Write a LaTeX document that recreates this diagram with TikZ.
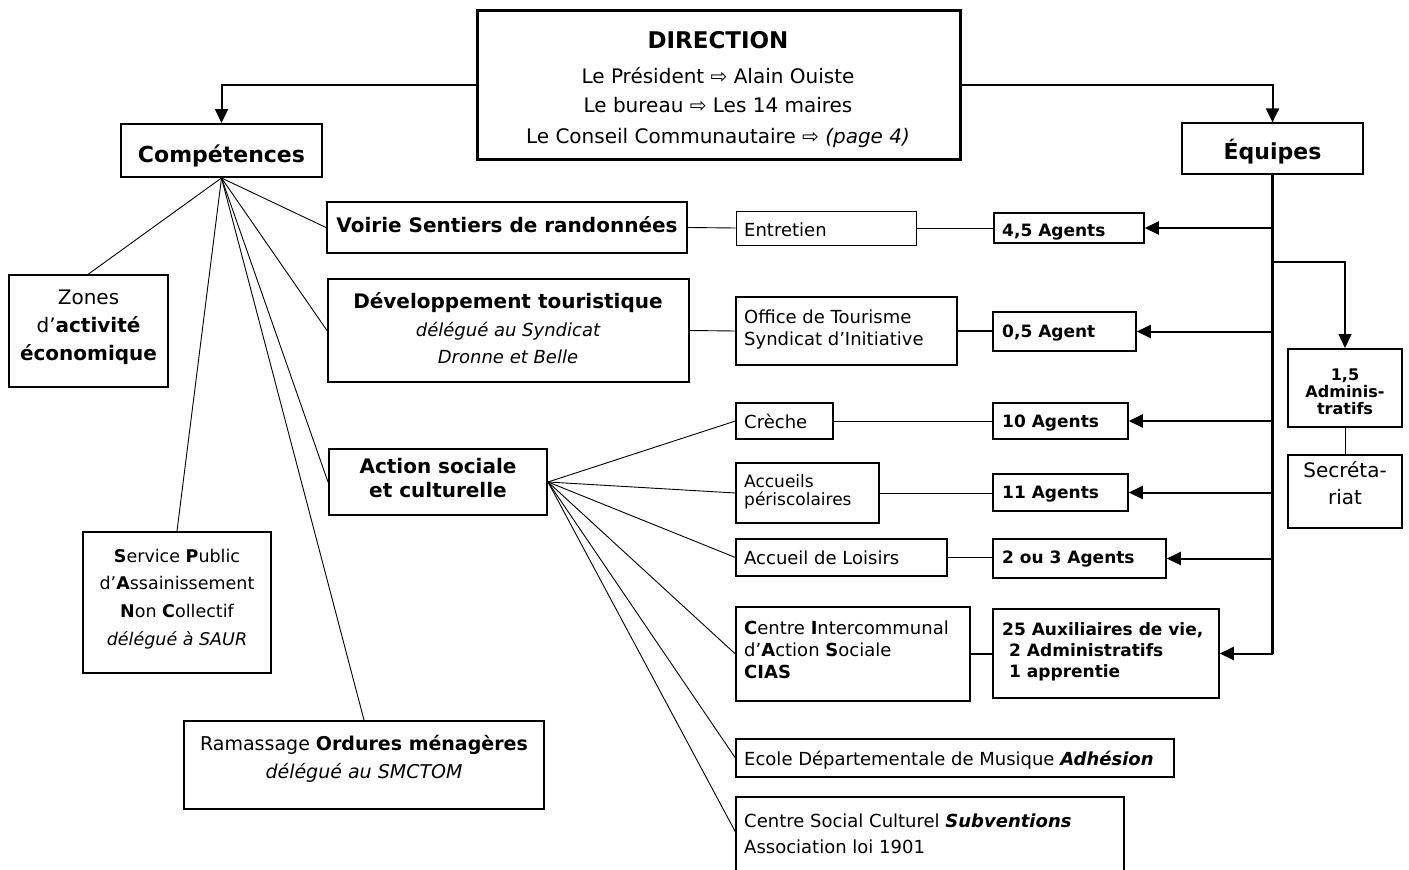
\documentclass[tikz,border=0pt]{standalone}
\usepackage{fontspec}
\setmainfont{DejaVu Sans}
\usetikzlibrary{arrows.meta,fit}
\newcommand\fz[1]{\fontsize{#1pt}{#1pt}\selectfont}
\begin{document}
\begin{tikzpicture}[x=1pt,y=-1pt,
  bx/.style={draw, inner sep=0pt},
  tc/.style={inner sep=0pt, anchor=base},
  tl/.style={inner sep=0pt, anchor=base west},
  ln/.style={line width=0.9pt},
  arr/.style={line width=2pt, -{Triangle[length=14pt,width=13pt]}},
  arrs/.style={line width=1.5pt, -{Triangle[length=14pt,width=13pt]}},
]
\useasboundingbox (0,0) rectangle (1409,870);
% ---------- boxes ----------
\node[bx, line width=3pt, fit={(477,10) (960,159)}] (dir) {};
\node[bx, line width=2pt, fit={(121,124) (322,177)}] (comp) {};
\node[bx, line width=1.2pt, fit={(1182,123) (1363,174)}] (eq) {};
\node[bx, line width=2pt, fit={(327,202) (687,253)}] (voi) {};
\node[bx, line width=2pt, fit={(328,279) (689,382)}] (dev) {};
\node[bx, line width=2pt, fit={(9,275) (168,387)}] (zon) {};
\node[bx, line width=2pt, fit={(329,449) (547,515)}] (act) {};
\node[bx, line width=2pt, fit={(83,532) (271,673)}] (spa) {};
\node[bx, line width=2pt, fit={(184,721) (544,809)}] (ram) {};
\node[bx, line width=1pt, fit={(736,211) (916,245)}] (ent) {};
\node[bx, line width=1.5pt, fit={(994,213) (1144,243)}] (a45) {};
\node[bx, line width=1.2pt, fit={(736,297) (957,365)}] (off) {};
\node[bx, line width=1.5pt, fit={(993,312) (1136,351)}] (a05) {};
\node[bx, line width=2pt, fit={(1288,349) (1402,427)}] (adm) {};
\node[bx, line width=2pt, fit={(1288,455) (1402,528)}] (sec) {};
\node[bx, line width=1.2pt, fit={(736,403) (833,439)}] (cre) {};
\node[bx, line width=1.5pt, fit={(993,403) (1128,439)}] (a10) {};
\node[bx, line width=1.2pt, fit={(736,463) (879,523)}] (acc) {};
\node[bx, line width=1.5pt, fit={(993,474) (1128,511)}] (a11) {};
\node[bx, line width=1.2pt, fit={(736,539) (947,576)}] (loi) {};
\node[bx, line width=1.5pt, fit={(993,539) (1166,578)}] (a23) {};
\node[bx, line width=1.2pt, fit={(736,607) (970,701)}] (cia) {};
\node[bx, line width=1.5pt, fit={(993,609) (1219,698)}] (aux) {};
\node[bx, line width=1.2pt, fit={(736,739) (1174,777)}] (eco) {};
\node[bx, line width=1.2pt, fit={(736,797) (1124,874)}] (csc) {};
% ---------- texts ----------
\node[tc, font=\fz{23}\bfseries] (t-dir0) at (718,48) {DIRECTION};
\node[tc, font=\fz{20}] (t-dir1) at (718,83) {Le Président ⇨ Alain Ouiste};
\node[tc, font=\fz{20}] (t-dir2) at (718,112) {Le bureau ⇨ Les 14 maires};
\node[tc, font=\fz{20}] (t-dir3) at (718,143) {Le Conseil Communautaire ⇨ \textit{(page 4)}};
\node[tc, font=\fz{22}\bfseries] (t-comp) at (221.5,162) {Compétences};
\node[tc, font=\fz{22}\bfseries] (t-eq) at (1272.5,159) {Équipes};
\node[tc, font=\fz{20}\bfseries] (t-voi) at (507,232) {Voirie Sentiers de randonnées};
\node[tc, font=\fz{20}\bfseries] (t-dev1) at (508,308) {Développement touristique};
\node[tc, font=\fz{18}\itshape] (t-dev2) at (508,336) {délégué au Syndicat};
\node[tc, font=\fz{18}\itshape] (t-dev3) at (508,363) {Dronne et Belle};
\node[tc, font=\fz{20}] (t-zon1) at (88.5,304) {Zones};
\node[tc, font=\fz{20}] (t-zon2) at (88.5,332) {d’\textbf{activité}};
\node[tc, font=\fz{20}\bfseries] (t-zon3) at (88.5,360) {économique};
\node[tc, font=\fz{20}\bfseries] (t-act1) at (438,473) {Action sociale};
\node[tc, font=\fz{20}\bfseries] (t-act2) at (438,497) {et culturelle};
\node[tc, font=\fz{17.5}] (t-spa1) at (177,562) {\textbf{S}ervice \textbf{P}ublic};
\node[tc, font=\fz{17.5}] (t-spa2) at (177,589) {d’\textbf{A}ssainissement};
\node[tc, font=\fz{17.5}] (t-spa3) at (177,617) {\textbf{N}on \textbf{C}ollectif};
\node[tc, font=\fz{17.5}\itshape] (t-spa4) at (177,645) {délégué à SAUR};
\node[tc, font=\fz{19}] (t-ram1) at (364,750) {Ramassage \textbf{Ordures ménagères}};
\node[tc, font=\fz{19}\itshape] (t-ram2) at (364,778) {délégué au SMCTOM};
\node[tl, font=\fz{18}] (t-ent) at (744,236) {Entretien};
\node[tl, font=\fz{17}\bfseries] (t-a45) at (1002,236) {4,5 Agents};
\node[tl, font=\fz{18}] (t-off1) at (744,323) {Office de Tourisme};
\node[tl, font=\fz{18}] (t-off2) at (744,345) {Syndicat d’Initiative};
\node[tl, font=\fz{17}\bfseries] (t-a05) at (1002,337) {0,5 Agent};
\node[tc, font=\fz{16}\bfseries] (t-adm1) at (1345,380) {1,5};
\node[tc, font=\fz{16}\bfseries] (t-adm2) at (1345,397) {Adminis-};
\node[tc, font=\fz{16}\bfseries] (t-adm3) at (1345,414) {tratifs};
\node[tc, font=\fz{20}] (t-sec1) at (1345,477) {Secréta-};
\node[tc, font=\fz{20}] (t-sec2) at (1345,504) {riat};
\node[tl, font=\fz{18}] (t-cre) at (744,428) {Crèche};
\node[tl, font=\fz{17}\bfseries] (t-a10) at (1002,427) {10 Agents};
\node[tl, font=\fz{17}] (t-acc1) at (744,487) {Accueils};
\node[tl, font=\fz{17}] (t-acc2) at (744,505) {périscolaires};
\node[tl, font=\fz{17}\bfseries] (t-a11) at (1002,498) {11 Agents};
\node[tl, font=\fz{18}] (t-loi) at (744,564) {Accueil de Loisirs};
\node[tl, font=\fz{17}\bfseries] (t-a23) at (1002,563) {2 ou 3 Agents};
\node[tl, font=\fz{18}] (t-cia1) at (744,634) {\textbf{C}entre \textbf{I}ntercommunal};
\node[tl, font=\fz{18}] (t-cia2) at (744,656) {d’\textbf{A}ction \textbf{S}ociale};
\node[tl, font=\fz{18}\bfseries] (t-cia3) at (744,678) {CIAS};
\node[tl, font=\fz{17}\bfseries] (t-aux1) at (1002,635) {25 Auxiliaires de vie,};
\node[tl, font=\fz{17}\bfseries] (t-aux2) at (1009,656) {2 Administratifs};
\node[tl, font=\fz{17}\bfseries] (t-aux3) at (1009,677) {1 apprentie};
\node[tl, font=\fz{18}] (t-eco) at (744,765) {Ecole Départementale de Musique \textbf{\textit{Adhésion}}};
\node[tl, font=\fz{18}] (t-csc1) at (744,827) {Centre Social Culturel \textbf{\textit{Subventions}}};
\node[tl, font=\fz{18}] (t-csc2) at (744,853) {Association loi 1901};
% ---------- connectors ----------
\draw[arr] (dir.west) -| (comp.north);
\draw[arr] (dir.east) -| (eq.north);
\foreach \t in {zon.north, voi.west, dev.west, act.west, spa.north, ram.north}
  \draw[ln] (comp.south) -- (\t);
\foreach \t in {cre.west, acc.west, loi.west, cia.west, eco.west}
  \draw[ln] (act.east) -- (\t);
\coordinate (cscin) at (736,833);
\draw[ln] (act.east) -- (cscin);
\draw[ln] (voi.east) -- (ent.west);
\draw[ln] (ent.east) -- (a45.west);
\draw[ln] (dev.east) -- (off.west);
\draw[line width=1.5pt] (off.east) -- (off.east -| a05.west);
\draw[ln] (cre.east) -- (a10.west);
\draw[ln] (acc.east) -- (acc.east -| a11.west);
\draw[ln] (loi.east) -- (loi.east -| a23.west);
\draw[line width=2pt] (cia.east) -- (cia.east -| aux.west);
\draw[line width=2.2pt] (eq.south) -- (eq.south |- aux.east);
\foreach \t in {a45, a05, a10, a11, a23, aux}
  \draw[arr] (eq.south |- \t.east) -- (\t.east);
\coordinate (br) at (1272.5,262);
\draw[arrs] (br) -| (adm.north);
\draw[ln] (adm.south) -- (sec.north);
\end{tikzpicture}
\end{document}
